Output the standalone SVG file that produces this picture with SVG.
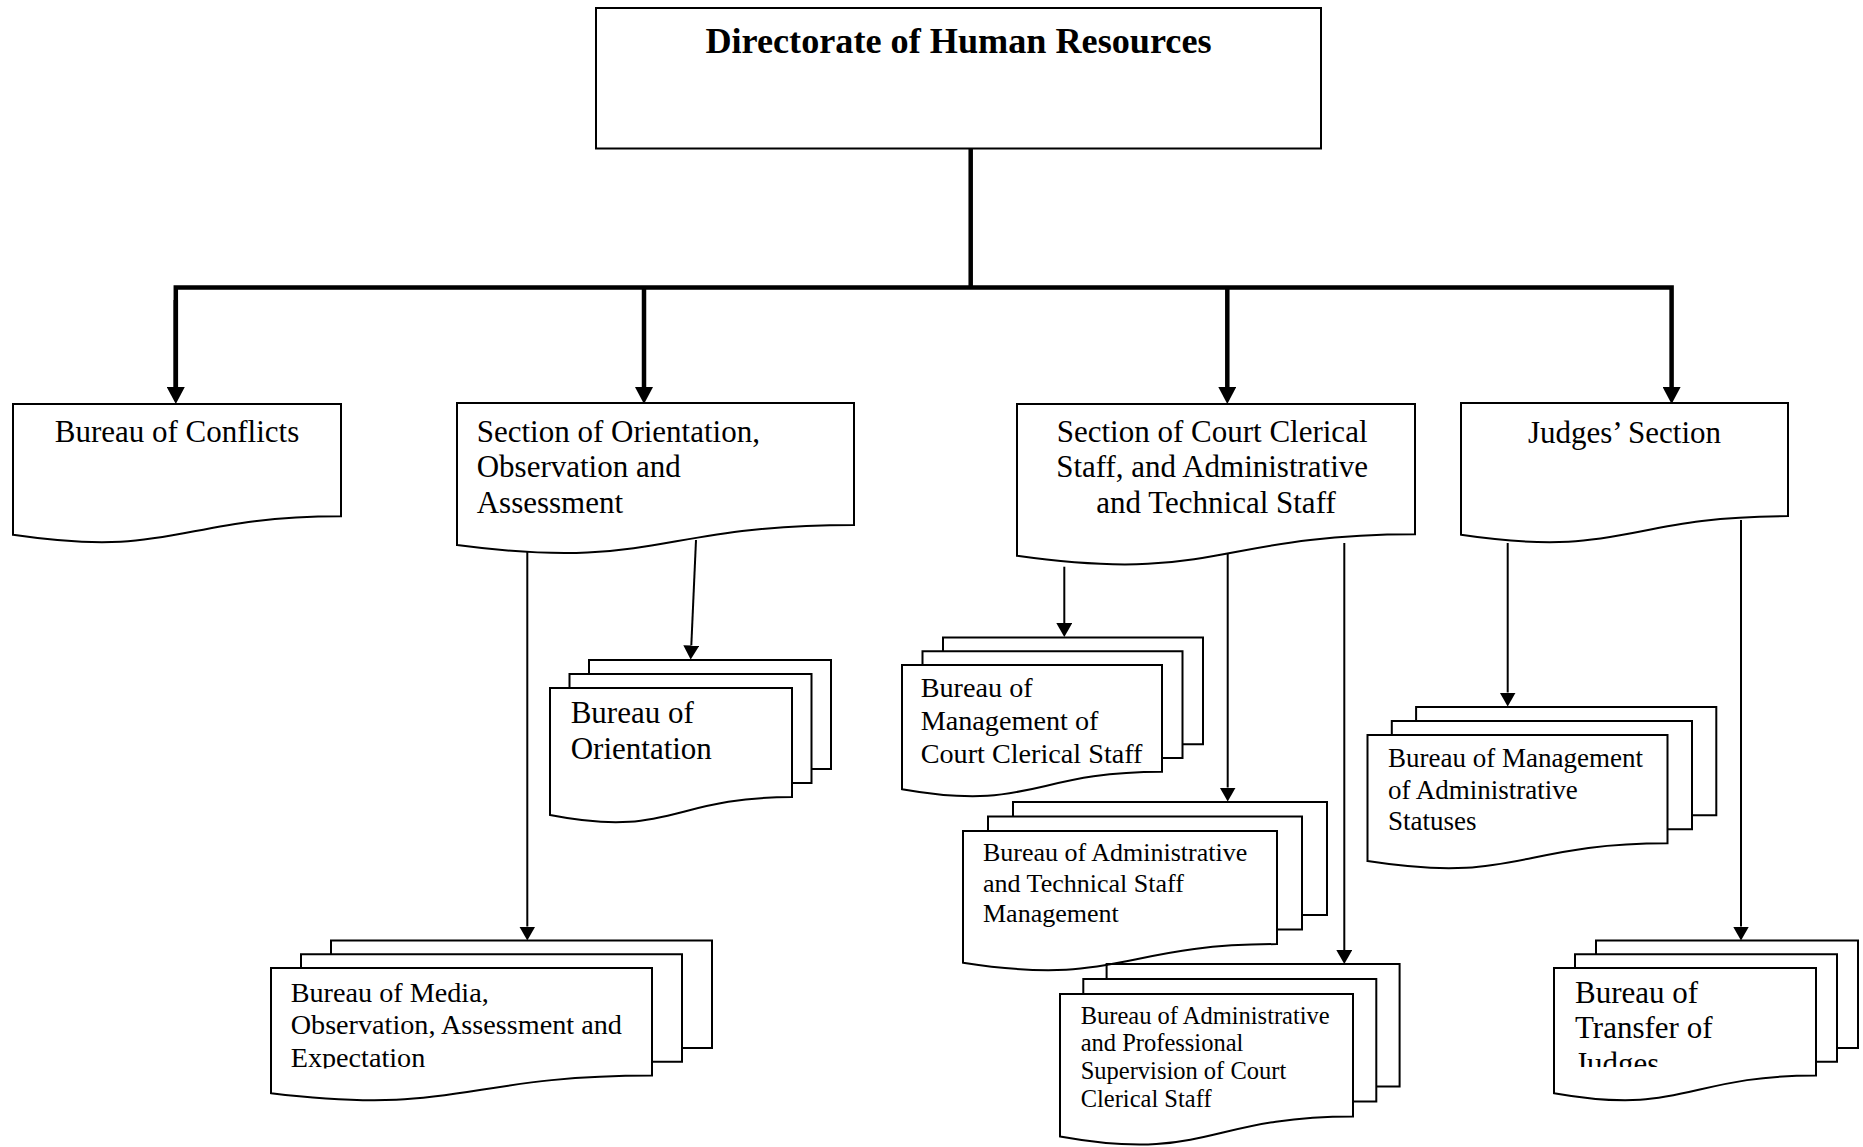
<svg xmlns="http://www.w3.org/2000/svg" width="1863" height="1147" viewBox="0 0 1863 1147">
  <style>
    .box { fill: #fff; stroke: #000; stroke-width: 2; }
    .back { fill: none; stroke: #000; stroke-width: 2; stroke-linejoin: miter; }
    .bold-link { fill: none; stroke: #000; stroke-width: 4.5; stroke-linejoin: miter; }
    .link { fill: none; stroke: #000; stroke-width: 2; }
    text { font-family: "Liberation Serif", "Times New Roman", serif; fill: #000; }
    .title { font-size: 36.2px; font-weight: bold; text-anchor: middle; }
    .f31 { font-size: 31px; }
    .f28 { font-size: 28.2px; }
    .f27 { font-size: 27px; }
    .f26 { font-size: 26px; }
    .f245 { font-size: 24.5px; }
    .mid { text-anchor: middle; }
  </style>
  <defs>
    <marker id="arrowBold" markerUnits="userSpaceOnUse" viewBox="0 0 17 18" markerWidth="17" markerHeight="18" refX="0" refY="9" orient="auto">
      <path d="M0,0 L17,9 L0,18 Z" fill="#000"/>
    </marker>
    <marker id="arrow" markerUnits="userSpaceOnUse" viewBox="0 0 14 16" markerWidth="14" markerHeight="16" refX="0" refY="8" orient="auto">
      <path d="M0,0 L14,8 L0,16 Z" fill="#000"/>
    </marker>
    <clipPath id="clipMedia"><rect x="271" y="968" width="381" height="100.5"/></clipPath>
    <clipPath id="clipTransfer"><rect x="1554" y="968" width="262" height="99"/></clipPath>
  </defs>

  <!-- connectors -->
  <g id="connectors">
    <path class="bold-link" d="M970.7,148.5 V287.5"/>
    <path class="bold-link" d="M175.8,387 V287.5 H1671.6 V387" marker-end="url(#arrowBold)"/>
    <path class="bold-link" d="M175.8,300 V387" marker-end="url(#arrowBold)"/>
    <path class="bold-link" d="M644,287.5 V387" marker-end="url(#arrowBold)"/>
    <path class="bold-link" d="M1227.3,287.5 V387" marker-end="url(#arrowBold)"/>

    <path class="link" d="M696,540 L691.3,645.5" marker-end="url(#arrow)"/>
    <path class="link" d="M527.3,543 V926.5" marker-end="url(#arrow)"/>
    <path class="link" d="M1064.3,566.7 V623" marker-end="url(#arrow)"/>
    <path class="link" d="M1227.7,543 V787.5" marker-end="url(#arrow)"/>
    <path class="link" d="M1344.3,543 V950" marker-end="url(#arrow)"/>
    <path class="link" d="M1507.7,543 V692.5" marker-end="url(#arrow)"/>
    <path class="link" d="M1741,520 V926.5" marker-end="url(#arrow)"/>
  </g>

  <!-- head office -->
  <g id="directorate">
    <rect class="box" x="596" y="8" width="725" height="140.5"/>
    <text class="title" x="958.5" y="53.3">Directorate of Human Resources</text>
  </g>

  <!-- first level -->
  <g id="bureau-conflicts">
    <path class="box" d="M13,404 H341 V516.3 C177,516.3 177,559 13,534.8 Z"/>
    <text class="f31 mid" x="177" y="442">Bureau of Conflicts</text>
  </g>

  <g id="section-orientation">
    <path class="box" d="M457,403 H854 V524.9 C655.5,524.9 655.5,571.3 457,545 Z"/>
    <text class="f31" x="476.7" y="441.7">Section of Orientation,
      <tspan x="476.7" y="477.3">Observation and</tspan>
      <tspan x="476.7" y="513">Assessment</tspan>
    </text>
  </g>

  <g id="section-court-staff">
    <path class="box" d="M1017,404 H1415 V534.3 C1216,534.3 1216,583.9 1017,555.8 Z"/>
    <text class="f31 mid" x="1216" y="441.7">Section of Court Clerical
      <tspan x="1216" y="477.3">Staff, and Administrative</tspan>
      <tspan x="1216" y="513.3">and Technical Staff</tspan>
    </text>
  </g>

  <g id="judges-section">
    <path class="box" d="M1461,403 H1788 V516.1 C1624.5,516.1 1624.5,559.1 1461,534.7 Z"/>
    <text class="f31 mid" x="1624.5" y="442.7">Judges’ Section</text>
  </g>

  <!-- second level: stacked documents -->
  <g id="bureau-orientation">
    <path class="back" d="M589,674 V660 H831 V769.1 H811.5"/>
    <path class="back" d="M569.5,688 V674 H811.5 V783.1 H792"/>
    <path class="box" d="M550,688 H792 V797.1 C671,797.1 671,838.6 550,815 Z"/>
    <text class="f31" x="570.7" y="723">Bureau of
      <tspan x="570.7" y="759">Orientation</tspan>
    </text>
  </g>

  <g id="bureau-media">
    <path class="back" d="M331,954.3 V940.6 H712 V1048.1 H682"/>
    <path class="back" d="M301,968 V954.3 H682 V1061.8 H652"/>
    <path class="box" d="M271,968 H652 V1075.5 C461.5,1075.5 461.5,1116.3 271,1093.2 Z"/>
    <text class="f28" x="290.7" y="1001.5" clip-path="url(#clipMedia)">Bureau of Media,
      <tspan x="290.7" y="1034">Observation, Assessment and</tspan>
      <tspan x="290.7" y="1066.5">Expectation</tspan>
    </text>
  </g>

  <g id="bureau-court-clerical">
    <path class="back" d="M943,651.3 V637.6 H1203 V744.3 H1182.5"/>
    <path class="back" d="M922.5,665 V651.3 H1182.5 V758 H1162"/>
    <path class="box" d="M902,665 H1162 V771.7 C1032,771.7 1032,812.2 902,789.2 Z"/>
    <text class="f28" x="920.7" y="697">Bureau of
      <tspan x="920.7" y="730">Management of</tspan>
      <tspan x="920.7" y="762.7">Court Clerical Staff</tspan>
    </text>
  </g>

  <g id="bureau-admin-technical">
    <path class="back" d="M1013,816.5 V802 H1327 V915.1 H1302"/>
    <path class="back" d="M988,831 V816.5 H1302 V929.6 H1277"/>
    <path class="box" d="M963,831 H1277 V944.1 C1120,944.1 1120,987.1 963,962.7 Z"/>
    <text class="f26" x="983" y="861">Bureau of Administrative
      <tspan x="983" y="892">and Technical Staff</tspan>
      <tspan x="983" y="922">Management</tspan>
    </text>
  </g>

  <g id="bureau-supervision">
    <path class="back" d="M1106.6,979 V964 H1399.6 V1086.4 H1376.3"/>
    <path class="back" d="M1083.3,994 V979 H1376.3 V1101.4 H1353"/>
    <path class="box" d="M1060,994 H1353 V1116.4 C1206.5,1116.4 1206.5,1162.9 1060,1136.5 Z"/>
    <text class="f245" x="1080.7" y="1023.5">Bureau of Administrative
      <tspan x="1080.7" y="1051.3">and Professional</tspan>
      <tspan x="1080.7" y="1079.1">Supervision of Court</tspan>
      <tspan x="1080.7" y="1106.9">Clerical Staff</tspan>
    </text>
  </g>

  <g id="bureau-statuses">
    <path class="back" d="M1416.1,721 V707 H1716.3 V815.3 H1692"/>
    <path class="back" d="M1391.8,735 V721 H1692 V829.3 H1667.5"/>
    <path class="box" d="M1367.5,735 H1667.5 V843.3 C1517.5,843.3 1517.5,884.4 1367.5,861.1 Z"/>
    <text class="f27" x="1388" y="767">Bureau of Management
      <tspan x="1388" y="798.5">of Administrative</tspan>
      <tspan x="1388" y="830">Statuses</tspan>
    </text>
  </g>

  <g id="bureau-transfer">
    <path class="back" d="M1596,954.3 V940.6 H1858 V1048.1 H1837"/>
    <path class="back" d="M1575,968 V954.3 H1837 V1061.8 H1816"/>
    <path class="box" d="M1554,968 H1816 V1075.5 C1685,1075.5 1685,1116.3 1554,1093.2 Z"/>
    <text class="f31" x="1575" y="1003.3" clip-path="url(#clipTransfer)">Bureau of
      <tspan x="1575" y="1038.3">Transfer of</tspan>
      <tspan x="1575" y="1074">Judges</tspan>
    </text>
  </g>
</svg>
